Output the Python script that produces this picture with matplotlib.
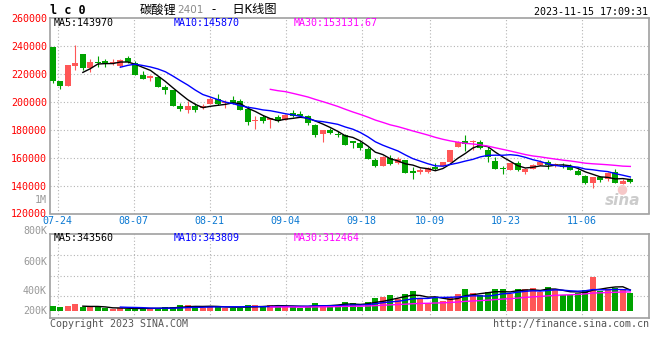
"""
Lithium carbonate LC2401 daily K-line chart (sina finance style)
"""

import numpy as np
import pandas as pd
import matplotlib
matplotlib.use('Agg')
import matplotlib.pyplot as plt

# trading days shown (exchange closed 09-29 .. 10-06)
days = pd.bdate_range('2023-07-21', '2023-11-15')
days = days[(days < '2023-09-29') | (days > '2023-10-06')]
day_labels = list(days.strftime('%m-%d'))

tick_days = ['07-24', '08-07', '08-21', '09-04', '09-18', '10-09', '10-23', '11-06']

opens = [239050, 214760, 210950, 225950, 234290, 224050, 228570, 229290, 227860, 225950,
         231190, 227620, 219520, 217380, 218100, 210710, 208100, 196670, 193810, 196670,
         195480, 198100, 201670, 199050, 200950, 200240, 194760, 185950, 189050, 187140,
         189290, 187140, 192000, 191430, 190000, 183570, 176900, 179520, 177140, 175950,
         171190, 170240, 166190, 158570, 153810, 159760, 156190, 158330, 150000, 150000,
         150000, 153570, 153810, 156670, 167860, 171900, 170950, 170950, 165480, 157860,
         152380, 151190, 155950, 150000, 152150, 154770, 156910, 154530, 154050, 153340,
         150240, 146910, 141670, 146200, 144530, 150000, 141430, 144530]
highs = [239500, 214760, 226430, 240710, 234290, 230480, 232860, 230480, 230480, 230710,
         232860, 229290, 222140, 219520, 218100, 212140, 208100, 198810, 200240, 198810,
         198100, 203330, 205480, 200950, 203810, 201670, 196670, 189760, 190240, 188330,
         190240, 191430, 194290, 193100, 190710, 184050, 179520, 181190, 178810, 176900,
         171670, 171670, 167860, 159760, 161190, 161670, 160710, 158330, 153100, 152380,
         153570, 156190, 156670, 165480, 171900, 176190, 172620, 172620, 167380, 160710,
         154290, 155950, 157860, 152860, 155480, 158100, 158340, 156430, 155960, 155720,
         151670, 147390, 146200, 146910, 149770, 151670, 145010, 145240]
lows = [213800, 209050, 210950, 222860, 222860, 221670, 225240, 225240, 226430, 225240,
        228100, 219520, 216190, 215240, 210240, 205480, 196700, 193330, 192140, 192620,
        195000, 198100, 197860, 195710, 198570, 194050, 183570, 180240, 185000, 180950,
        185720, 187140, 188810, 188810, 183100, 175000, 170950, 177140, 174520, 168810,
        166900, 165710, 159290, 153100, 153810, 154520, 155710, 148810, 144760, 148100,
        149050, 151430, 153810, 156670, 167380, 165000, 165710, 166190, 157140, 151900,
        148330, 151190, 150240, 148330, 152150, 154770, 152150, 153570, 152620, 151200,
        147620, 140960, 138340, 142860, 143100, 142150, 141430, 142150]
closes = [215240, 210950, 226430, 228100, 224520, 228570, 227620, 227860, 228330, 230000,
          228570, 219520, 216670, 217860, 210240, 208570, 196900, 194760, 196670, 193810,
          196900, 201670, 198330, 200000, 199290, 194050, 185240, 186670, 185950, 187860,
          186430, 190710, 189700, 189760, 184760, 176430, 179520, 177380, 175950, 168810,
          170710, 166900, 159290, 153810, 160240, 155710, 159290, 148810, 149290, 150710,
          152380, 151900, 156670, 165480, 171430, 169520, 171430, 166670, 160240, 151900,
          151900, 155950, 151190, 152000, 154530, 156910, 154530, 155000, 153100, 151200,
          147620, 142150, 146200, 144050, 149290, 142150, 143340, 142630]
volumes = [77600, 55400, 77600, 110800, 55400, 55400, 55400, 38800, 33200, 44300,
           33200, 33200, 44300, 38800, 44300, 55400, 55400, 88600, 88600, 72000,
           49900, 72000, 72000, 49900, 49900, 49900, 88600, 88600, 72000, 88600,
           83100, 77600, 72000, 49900, 72000, 121900, 88600, 94200, 94200, 149600,
           127400, 55400, 149600, 210500, 232700, 260400, 188400, 282500, 332400, 199400,
           127400, 210500, 166200, 232700, 277000, 360100, 293600, 254800, 310200, 360100,
           360100, 277000, 360100, 360100, 376700, 310200, 393300, 360100, 254800, 254800,
           299200, 343500, 559500, 332400, 360100, 376700, 360100, 288100]

price_ticks = [120000, 140000, 160000, 180000, 200000, 220000, 240000, 260000]
vol_tick_text = ['1M', '800K', '600K', '400K', '200K']

RED = '#ff5757'
GREEN = '#00a300'
GRID = '#b4b4b4'
FRAME = '#a0a0a0'
MONO = 'DejaVu Sans Mono'
FS = 7.2

W, H = 660, 360


def fx(px):
    return px / W


def fy(py):
    return 1 - py / H


fig = plt.figure(figsize=(W / 100, H / 100), dpi=100)
price_rect = [fx(50), fy(213.5), 599 / W, 195.5 / H]
vol_rect = [fx(50), fy(318), 599 / W, 84 / H]

# back axes: frame, date grid and date labels (sina spaces the grid a bit wider)
gax = fig.add_axes(price_rect)
vgax = fig.add_axes(vol_rect)
# front axes: candles and volume bars
ax = fig.add_axes(price_rect)
vax = fig.add_axes(vol_rect)

x = np.arange(len(day_labels))
o, hi, lo, c = (np.array(a, dtype=float) for a in (opens, highs, lows, closes))
cols = np.where(c >= o, RED, GREEN)
w = 0.76

# candles
ax.vlines(x + w / 2, lo, hi, colors=cols, lw=0.8, zorder=3)
ax.bar(x, np.maximum(np.abs(c - o), 900), w, bottom=np.minimum(o, c),
       align='edge', color=cols, lw=0, zorder=3)
cs = pd.Series(closes, dtype=float)
for n, col in [(5, 'black'), (10, 'blue'), (30, 'magenta')]:
    ax.plot(x + w / 2, cs.rolling(n).mean(), color=col, lw=1, zorder=4)

# volume
vax.bar(x, volumes, w, align='edge', color=cols, lw=0, zorder=3)
vs = pd.Series(volumes, dtype=float)
for n, col in [(5, 'black'), (10, 'blue'), (30, 'magenta')]:
    vax.plot(x + w / 2, vs.rolling(n).mean(), color=col, lw=1, zorder=4)

grid_x = [day_labels.index(d) for d in tick_days]

for a in (ax, vax):
    a.set_xlim(0, 79.87)
    a.patch.set_visible(False)
    a.set_xticks([])
    for s in a.spines.values():
        s.set_visible(False)

for a in (gax, vgax):
    a.set_xlim(0, 78.8)
    for s in a.spines.values():
        s.set_color(FRAME)
        s.set_linewidth(1.2)
    for gx in grid_x:
        a.axvline(gx, color=GRID, lw=0.8, ls=(0, (1, 2)), zorder=1)
    a.set_yticks([])

ax.set_ylim(120000, 260000)
gax.set_ylim(120000, 260000)
ax.set_yticks(price_ticks)
ax.set_yticklabels([str(t) for t in price_ticks], family=MONO)
ax.tick_params(axis='y', colors='red', length=0, pad=2, labelsize=FS)
for gy in price_ticks[1:-1]:
    gax.axhline(gy, color=GRID, lw=0.8, ls=(0, (1, 2)), zorder=1)

gax.set_xticks(grid_x)
gax.set_xticklabels(tick_days, family=MONO)
gax.tick_params(axis='x', colors='#0a78d2', length=0, pad=2, labelsize=FS)

for a in (vax, vgax):
    a.set_ylim(-121300, 1274800)
vax.set_yticks([])
vgax.set_xticks([])
for gy in [244300, 581700, 925700]:
    vgax.axhline(gy, color=GRID, lw=0.8, ls=(0, (1, 2)), zorder=1)
for lab, yv in zip(vol_tick_text, [1840000, 1325000, 814000, 332000, 0]):
    vax.text(-0.005, yv, lab, transform=vax.get_yaxis_transform(), ha='right',
             va='center', color='#999999', family=MONO, fontsize=FS, clip_on=False)

# legends / labels
for xp, txt, col in [(54, 'MA5:143970', 'black'), (174, 'MA10:145870', 'blue'),
                     (294, 'MA30:153131.67', 'magenta')]:
    fig.text(fx(xp), fy(23.5), txt, color=col, family=MONO, fontsize=FS, va='center')
for xp, txt, col in [(54, 'MA5:343560', 'black'), (174, 'MA10:343809', 'blue'),
                     (294, 'MA30:312464', 'magenta')]:
    fig.text(fx(xp), fy(238.3), txt, color=col, family=MONO, fontsize=FS, va='center')

fig.text(fx(50), fy(10.5), 'l c 0', family=MONO, fontsize=8.5, weight='bold', va='center')
t1 = gax.annotate('碳酸锂', xy=(fx(140), fy(10)), xycoords='figure fraction',
                  family=['Noto Sans CJK SC'], fontsize=8.8, va='center',
                  annotation_clip=False)
t2 = gax.annotate('2401', xy=(1, 0.5), xycoords=t1, color='#8a8a8a',
                  family='DejaVu Sans', fontsize=7.5, va='center', annotation_clip=False)
gax.annotate(' -  日K线图', xy=(1, 0.5), xycoords=t2,
             family=['DejaVu Sans Mono', 'Noto Sans CJK SC'], fontsize=8.8,
             va='center', annotation_clip=False)
fig.text(fx(648), fy(11.7), '2023-11-15 17:09:31', family=MONO, fontsize=FS,
         ha='right', va='center')
fig.text(fx(50), fy(323.7), 'Copyright 2023 SINA.COM', family=MONO, fontsize=FS,
         color='#555555', va='center')
fig.text(fx(649), fy(323.7), 'http://finance.sina.com.cn', family=MONO, fontsize=FS,
         color='#555555', va='center', ha='right')
gax.text(0.985, 0.065, 'sina', transform=gax.transAxes, ha='right', va='center',
         fontsize=11, weight='bold', style='italic', color='#cccccc', family='DejaVu Sans')
gax.text(0.955, 0.13, '●', transform=gax.transAxes, ha='center', va='center',
         fontsize=9, color='#f6c8c8', family='DejaVu Sans')

fig.savefig('out.png', dpi=100)
